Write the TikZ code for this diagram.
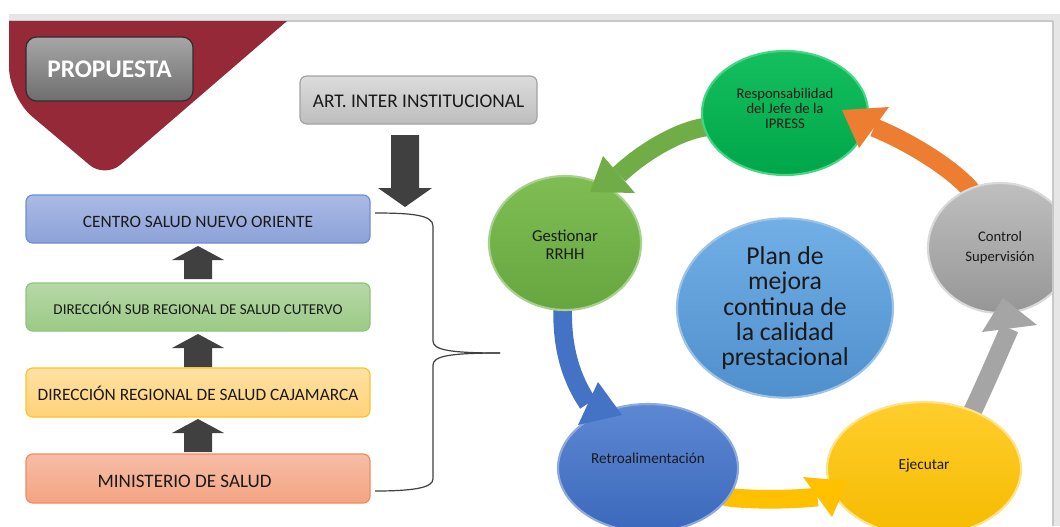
\documentclass[tikz,border=0pt]{standalone}
\usepackage{fontspec}
\setmainfont{Carlito}
\usetikzlibrary{shapes.geometric,backgrounds,calc}

\definecolor{maroon}{RGB}{150,41,56}
\definecolor{stripc}{HTML}{E6E6E6}
\definecolor{stripl}{HTML}{C8C8C8}
\definecolor{arrdark}{HTML}{404040}
\definecolor{txt}{HTML}{1A1A1A}
\definecolor{propT}{HTML}{A6A6A6}\definecolor{propB}{HTML}{6E6E6E}\definecolor{propD}{HTML}{2E2E2E}
\definecolor{artT}{HTML}{DCDCDC}\definecolor{artB}{HTML}{BDBDBD}\definecolor{artD}{HTML}{A3A3A3}
\definecolor{cenT}{HTML}{AABAE4}\definecolor{cenB}{HTML}{8DA2D8}\definecolor{cenD}{HTML}{6C8FD6}
\definecolor{subT}{HTML}{B6D8A6}\definecolor{subB}{HTML}{9CCA87}\definecolor{subD}{HTML}{8FC37A}
\definecolor{regT}{HTML}{FFE1A3}\definecolor{regB}{HTML}{FFD27A}\definecolor{regD}{HTML}{FFC326}
\definecolor{minT}{HTML}{F6BDA7}\definecolor{minB}{HTML}{F4A482}\definecolor{minD}{HTML}{F08C5E}
\definecolor{respT}{HTML}{14BF5E}\definecolor{respB}{HTML}{00A64A}\definecolor{respD}{HTML}{45D585}
\definecolor{gestT}{HTML}{7FBD54}\definecolor{gestB}{HTML}{67A53F}\definecolor{gestD}{HTML}{A9D18E}
\definecolor{ctrlT}{HTML}{BFBFBF}\definecolor{ctrlB}{HTML}{969696}\definecolor{ctrlD}{HTML}{D9D9D9}
\definecolor{planT}{HTML}{72AFE6}\definecolor{planB}{HTML}{4F8FCC}\definecolor{planD}{HTML}{9DC3E6}
\definecolor{retroT}{HTML}{5D88D3}\definecolor{retroB}{HTML}{3B68BB}\definecolor{retroD}{HTML}{8EAADB}
\definecolor{ejecT}{HTML}{FFCE2C}\definecolor{ejecB}{HTML}{F5BB00}\definecolor{ejecD}{HTML}{FFE38A}
\definecolor{agreen}{HTML}{70AD47}
\definecolor{aorange}{HTML}{ED7D31}
\definecolor{ablue}{HTML}{4472C4}
\definecolor{ayellow}{HTML}{FFC000}
\definecolor{agray}{HTML}{A5A5A5}

% shift node text vertically without changing its box
\newcommand{\shiftedtext}[2]{\raisebox{#1}[\height][\depth]{\begin{tabular}{@{}c@{}}#2\end{tabular}}}

\tikzset{
  lbox/.style={rectangle, rounded corners=5pt, line width=0.9pt, minimum width=258pt,
    minimum height=36pt, inner sep=0pt, outer sep=0pt, text=txt, align=center},
  cyc/.style={ellipse, inner sep=0pt, outer sep=0pt, line width=1.6pt, align=center,
    text=txt, font=\fontsize{11}{11.3}\selectfont},
  shaft/.style={line width=14pt, line join=round},
  brace/.style={draw=arrdark, line width=0.9pt},
  uparr/.pic={\fill[arrdark] (-14,0) -- (-14,-19) -- (-26,-19) -- (0,-33) -- (26,-19) -- (14,-19) -- (14,0) -- cycle;},
  downarr/.pic={\fill[arrdark] (-14,0) -- (-14,53) -- (-27,53) -- (0,72) -- (27,53) -- (14,53) -- (14,0) -- cycle;}
}

\begin{document}
\begin{tikzpicture}[x=0.75pt,y=-0.75pt]
\useasboundingbox (0,0) rectangle (1060,526);
\clip (0,0) rectangle (1060,526);
\begin{scope}[on background layer]
\fill[white] (0,0) rectangle (1060,526);
\end{scope}

% frame strip and maroon banner
\fill[stripc] (9,14) rectangle (1060,21);
\draw[stripl, line width=0.8pt] (9,21) -- (1053,21);
\fill[maroon] (9,21) -- (287,21) [rounded corners=15pt] -- (105,178) [rounded corners=22.5pt] -- (9,97) [sharp corners] -- cycle;

% left boxes
\node[lbox, rounded corners=8pt, top color=propT, bottom color=propB, draw=propD,
  minimum width=125.25pt, minimum height=48pt, text=white,
  font=\bfseries\fontsize{19}{22}\selectfont] (prop) at (109.5,69) {PROPUESTA};
\node[lbox, top color=artT, bottom color=artB, draw=artD, minimum width=177.75pt,
  font=\fontsize{14.5}{17}\selectfont] (art) at (418.5,100) {\shiftedtext{-2pt}{ART. INTER INSTITUCIONAL}};
\node[lbox, top color=cenT, bottom color=cenB, draw=cenD,
  font=\fontsize{13}{15}\selectfont] (centro) at (198,219) {\shiftedtext{-3pt}{CENTRO SALUD NUEVO ORIENTE}};
\node[lbox, top color=subT, bottom color=subB, draw=subD,
  font=\fontsize{11.3}{13}\selectfont] (sub) at (198,307) {\shiftedtext{-2.5pt}{DIRECCIÓN SUB REGIONAL DE SALUD CUTERVO}};
\node[lbox, top color=regT, bottom color=regB, draw=regD, minimum height=36.75pt,
  font=\fontsize{13}{15}\selectfont] (reg) at (198,392.5) {\shiftedtext{-2.5pt}{DIRECCIÓN REGIONAL DE SALUD CAJAMARCA}};
\node[lbox, top color=minT, bottom color=minB, draw=minD, minimum height=36.75pt,
  font=\fontsize{14.3}{17}\selectfont] (minis) at (198,478.5) {\hspace*{-20pt}\shiftedtext{-3pt}{MINISTERIO DE SALUD}};

% block arrows
\pic at ($(sub.north)+(0,-4)$) {uparr};
\pic at ($(reg.north)+(0,-1)$) {uparr};
\pic at ($(minis.north)+(0,-2)$) {uparr};
\coordinate (dtop) at (405,135);
\pic at (dtop) {downarr};

% brace
\coordinate (bt) at (375,213);
\coordinate (bb) at (375,491);
\coordinate (bp) at (500,353);
\draw[brace] (bt) .. controls (412,213) and (433,215) .. (433,226) -- (433,341)
  .. controls (433,350) and (450,353) .. (bp);
\draw[brace] (bp) .. controls (450,353) and (433,356) .. (433,365) -- (433,479)
  .. controls (433,488) and (412,491) .. (bb);

% cycle ellipses
\node[cyc, top color=respT, bottom color=respB, draw=respD, minimum width=124.5pt, minimum height=93pt]
  (resp) at (785,113) {\shiftedtext{2pt}{Responsabilidad\\del Jefe de la\\IPRESS}};
\node[cyc, top color=gestT, bottom color=gestB, draw=gestD, minimum width=114pt, minimum height=100.5pt,
  font=\fontsize{12.5}{13.5}\selectfont] (gest) at (565,243) {\shiftedtext{-3pt}{Gestionar\\RRHH}};
\node[cyc, top color=ctrlT, bottom color=ctrlB, draw=ctrlD, minimum width=108pt, minimum height=97.5pt,
  font=\fontsize{11}{15}\selectfont] (ctrl) at (1000,248) {Control\\Supervisión};
\node[cyc, top color=planT, bottom color=planB, draw=planD, minimum width=162pt, minimum height=132pt,
  font=\fontsize{19.3}{18.8}\selectfont] (plan) at (785,308)
  {\shiftedtext{-1.5pt}{Plan de\\mejora\\continua de\\la calidad\\prestacional}};
\node[cyc, top color=retroT, bottom color=retroB, draw=retroD, minimum width=135pt, minimum height=96pt,
  font=\fontsize{11.4}{13}\selectfont] (retro) at (648,468) {\shiftedtext{6pt}{Retroalimentación}};
\node[cyc, top color=ejecT, bottom color=ejecB, draw=ejecD, minimum width=145.5pt, minimum height=100.5pt,
  font=\fontsize{11.5}{13}\selectfont] (ejec) at (924,469) {\shiftedtext{2pt}{Ejecutar}};

% arrow shafts beneath the ellipses
\begin{scope}[on background layer]
\draw[shaft, agreen] (resp.center) -- (resp.190) .. controls (680,131) and (645,150) .. (619,174.5);
\draw[shaft, aorange] (ctrl.center) -- (ctrl.117) .. controls (948,165) and (905,140) .. (874,127.5);
\draw[shaft, ablue] (gest.center) -- (gest.268) .. controls (562,350) and (572,380) .. (588,403.5);
\draw[shaft, ayellow] (retro.center) -- (retro.-20) .. controls (750,500) and (790,500) .. (817.5,497);
\draw[shaft, agray] (ejec.center) -- (ejec.50) .. controls (985,385) and (1000,350) .. (1009.5,328.5);
\end{scope}

% arrow heads over the target ellipses
\coordinate (gh1) at (603,156); \coordinate (gh2) at (635,193); \coordinate (gtip) at (590,192);
\coordinate (oh1) at (889,107); \coordinate (oh2) at (859,148); \coordinate (otip) at (842,110);
\coordinate (bh1) at (598,382); \coordinate (bh2) at (578,425); \coordinate (btip) at (622,415);
\coordinate (yh1) at (803,477); \coordinate (yh2) at (832,517); \coordinate (ytip) at (848,481);
\coordinate (rh1) at (1037,325); \coordinate (rh2) at (982,332); \coordinate (rtip) at (1003,298);
\fill[agreen] (gh1) -- (gh2) -- (gtip) -- cycle;
\fill[aorange] (oh1) -- (oh2) -- (otip) -- cycle;
\fill[ablue] (bh1) -- (bh2) -- (btip) -- cycle;
\fill[ayellow] (yh1) -- (yh2) -- (ytip) -- cycle;
\fill[agray] (rh1) -- (rh2) -- (rtip) -- cycle;

% right frame strip
\fill[stripc] (1053,14) rectangle (1060,526);
\draw[stripl, line width=0.8pt] (1053,21) -- (1053,526);
\end{tikzpicture}
\end{document}
